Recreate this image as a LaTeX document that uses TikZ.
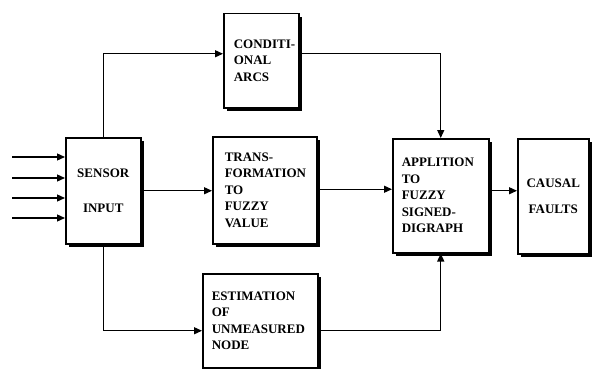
\documentclass[tikz,border=0pt]{standalone}
\usepackage{fontspec}
\setmainfont{Liberation Serif}
\usetikzlibrary{arrows.meta,shadows,calc}
\begin{document}
\begin{tikzpicture}[x=1pt,y=-1pt,
  blk/.style={draw=black, line width=1.5pt, fill=white, rectangle, anchor=north west,
    inner xsep=10pt, inner ysep=0pt, align=left,
    font=\fontsize{13}{16.5}\selectfont\bfseries,
    drop shadow={shadow xshift=3.5pt, shadow yshift=-3.5pt, fill=black, opacity=1}},
  arr/.style={line width=1.3pt, -{Triangle[length=8pt,width=7pt]}},
  ln/.style={line width=1.3pt}]
\useasboundingbox (0,0) rectangle (592,369);
\node[blk, minimum width=75pt, minimum height=106pt, text width=55pt, align=center] (sensor) at (65,137) {SENSOR\\[18pt]INPUT};
\node[blk, minimum width=75pt, minimum height=94pt, text width=55pt, inner xsep=10pt] (cond) at (223,13) {\mbox{CONDITI-}\\ONAL\\ARCS};
\node[blk, minimum width=104pt, minimum height=107pt, text width=80pt, inner xsep=12pt] (trans) at (212,136) {\mbox{TRANS-}\\FORMATION\\TO\\FUZZY\\VALUE};
\node[blk, minimum width=115pt, minimum height=94pt, text width=97pt, inner xsep=9pt] (est) at (202,273) {ESTIMATION\\OF\\UNMEASURED\\NODE};
\node[blk, minimum width=96pt, minimum height=114pt, text width=78pt, inner xsep=9pt] (app) at (392,138) {APPLITION\\TO\\FUZZY\\\mbox{SIGNED-}\\DIGRAPH};
\node[blk, minimum width=71pt, minimum height=115pt, text width=61pt, inner xsep=5pt, align=center] (causal) at (517,138) {CAUSAL\\[10pt]FAULTS};
% input arrows
\coordinate (i1) at (12,157);
\coordinate (i2) at (12,178);
\coordinate (i3) at (12,198);
\coordinate (i4) at (12,218);
\foreach \c in {i1,i2,i3,i4} \draw[arr] (\c) -- (\c -| sensor.west);
% connectors
\draw[arr] (sensor.north) |- ([yshift=7pt]cond.west);
\draw[arr] (sensor.east) -- (sensor.east -| trans.west);
\draw[arr] (sensor.south) |- ([yshift=-10pt]est.west);
\draw[arr] ([yshift=7pt]cond.east) -| (app.north);
\draw[arr] ([yshift=1pt]trans.east) -- ([yshift=1pt]trans.east -| app.west);
\draw[arr] ([yshift=-10pt]est.east) -| (app.south);
\draw[arr] ([yshift=5pt]app.east) -- ([yshift=5pt]app.east -| causal.west);
\end{tikzpicture}
\end{document}
